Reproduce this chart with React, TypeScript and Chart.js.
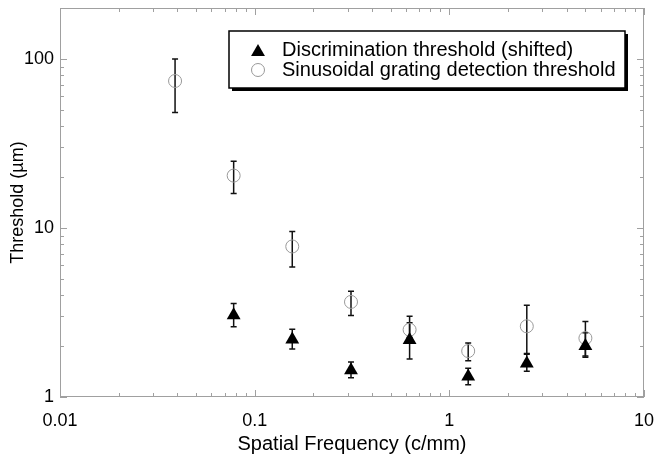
import React, { useEffect, useRef } from 'react';
import { Chart, registerables } from 'chart.js';

Chart.register(...registerables);

const FONT = '"Liberation Sans", Arial, Helvetica, sans-serif';

// Sinusoidal grating detection threshold (open circles)
const detFreq = [0.039, 0.078, 0.156, 0.3125, 0.625, 1.25, 2.5, 5];
const detThr = [74, 20.4, 7.77, 3.65, 2.5, 1.87, 2.62, 2.23];
const detLow = [48.2, 16.0, 5.87, 3.03, 2.25, 1.64, 1.81, 1.75];
const detHigh = [100, 24.8, 9.53, 4.22, 3.0, 2.09, 3.49, 2.8];

// Discrimination threshold (shifted) (filled triangles)
const discFreq = [0.078, 0.156, 0.3125, 0.625, 1.25, 2.5, 5];
const discThr = [3.05, 2.19, 1.44, 2.17, 1.32, 1.58, 2.0];
const discLow = [2.6, 1.92, 1.3, 1.68, 1.18, 1.42, 1.72];
const discHigh = [3.57, 2.52, 1.61, 2.75, 1.48, 1.79, 2.4];

const xTickValues = [0.01, 0.1, 1, 10];
const yTickValues = [1, 10, 100];
const X_MIN = 0.01;
const X_MAX = 10;
const Y_MIN = 1;
const Y_MAX = 200;

const discLabel = 'Discrimination threshold (shifted)';
const detLabel = 'Sinusoidal grating detection threshold';

function logMinors(min: number, max: number): number[] {
  const out: number[] = [];
  for (let k = Math.floor(Math.log10(min)); k <= Math.ceil(Math.log10(max)); k++) {
    for (let m = 1; m <= 9; m++) {
      const v = m * Math.pow(10, k);
      if (v >= min * 0.999 && v <= max * 1.001) out.push(v);
    }
  }
  return out;
}

function drawTriangle(ctx: CanvasRenderingContext2D, x: number, y: number, r: number) {
  ctx.beginPath();
  ctx.moveTo(x, y - r);
  ctx.lineTo(x + 0.866 * r, y + 0.5 * r);
  ctx.lineTo(x - 0.866 * r, y + 0.5 * r);
  ctx.closePath();
  ctx.fill();
}

const customPlugin = {
  id: 'customDecor',
  beforeDatasetsDraw(chart: any) {
    const ctx = chart.ctx as CanvasRenderingContext2D;
    const xs = chart.scales.x;
    const ys = chart.scales.y;
    ctx.save();
    ctx.strokeStyle = '#111';
    ctx.lineWidth = 1.5;
    chart.data.datasets.forEach((ds: any) => {
      ds.data.forEach((pt: any, i: number) => {
        const px = xs.getPixelForValue(pt.x);
        const p1 = ys.getPixelForValue(ds.errLow[i]);
        const p2 = ys.getPixelForValue(ds.errHigh[i]);
        ctx.beginPath();
        ctx.moveTo(px, p1);
        ctx.lineTo(px, p2);
        ctx.moveTo(px - 3, p1);
        ctx.lineTo(px + 3, p1);
        ctx.moveTo(px - 3, p2);
        ctx.lineTo(px + 3, p2);
        ctx.stroke();
      });
    });
    ctx.restore();
  },
  afterDraw(chart: any) {
    const ctx = chart.ctx as CanvasRenderingContext2D;
    const { left, right, top, bottom } = chart.chartArea;
    const xs = chart.scales.x;
    const ys = chart.scales.y;
    ctx.save();
    ctx.strokeStyle = '#a0a0a0';
    ctx.lineWidth = 1;
    ctx.strokeRect(left + 0.5, top + 0.5, right - left - 1, bottom - top - 1);
    ctx.beginPath();
    logMinors(X_MIN, X_MAX).forEach((v) => {
      const px = Math.round(xs.getPixelForValue(v)) + 0.5;
      const major = xTickValues.some((t) => Math.abs(t - v) / t < 1e-6);
      const len = major ? 7 : 4;
      ctx.moveTo(px, bottom);
      ctx.lineTo(px, bottom - len);
      ctx.moveTo(px, top);
      ctx.lineTo(px, top + len);
    });
    logMinors(Y_MIN, Y_MAX).forEach((v) => {
      const py = Math.round(ys.getPixelForValue(v)) + 0.5;
      const major = yTickValues.some((t) => Math.abs(t - v) / t < 1e-6);
      const len = major ? 7 : 4;
      ctx.moveTo(left, py);
      ctx.lineTo(left + len, py);
      ctx.moveTo(right, py);
      ctx.lineTo(right - len, py);
    });
    ctx.stroke();

    // legend
    const bx = 229, by = 31, bw = 396, bh = 57;
    ctx.fillStyle = '#000';
    ctx.fillRect(bx + 3, by + 3, bw, bh);
    ctx.fillStyle = '#fff';
    ctx.fillRect(bx, by, bw, bh);
    ctx.strokeStyle = '#000';
    ctx.lineWidth = 1.5;
    ctx.strokeRect(bx, by, bw, bh);

    ctx.fillStyle = '#000';
    drawTriangle(ctx, 258, 52, 8);
    ctx.strokeStyle = '#999';
    ctx.lineWidth = 1;
    ctx.beginPath();
    ctx.arc(258, 70, 6.5, 0, Math.PI * 2);
    ctx.stroke();

    ctx.fillStyle = '#000';
    ctx.font = `20px ${FONT}`;
    ctx.textBaseline = 'middle';
    ctx.textAlign = 'left';
    ctx.fillText(chart.data.datasets[0].label, 282, 50);
    ctx.fillText(chart.data.datasets[1].label, 282, 70);
    ctx.restore();
  },
};

export default function App() {
  const ref = useRef<HTMLCanvasElement | null>(null);
  useEffect(() => {
    document.body.style.margin = '0';
    const canvas = ref.current;
    if (!canvas) return;
    const chart = new Chart(canvas, {
      type: 'scatter',
      data: {
        datasets: [
          {
            label: discLabel,
            data: discFreq.map((x, i) => ({ x, y: discThr[i] })),
            errLow: discLow,
            errHigh: discHigh,
            pointStyle: 'triangle',
            pointRadius: 8,
            pointHoverRadius: 8,
            backgroundColor: '#000',
            borderColor: '#000',
            borderWidth: 0,
            showLine: false,
          } as any,
          {
            label: detLabel,
            data: detFreq.map((x, i) => ({ x, y: detThr[i] })),
            errLow: detLow,
            errHigh: detHigh,
            pointStyle: 'circle',
            pointRadius: 6.5,
            pointHoverRadius: 6.5,
            backgroundColor: 'rgba(0,0,0,0)',
            borderColor: '#999',
            borderWidth: 1,
            showLine: false,
          } as any,
        ],
      },
      options: {
        responsive: false,
        animation: false,
        devicePixelRatio: 1,
        layout: { padding: { top: 7, right: 14, left: 0, bottom: 0 } },
        plugins: { legend: { display: false }, tooltip: { enabled: false } },
        events: [],
        scales: {
          x: {
            type: 'logarithmic',
            min: X_MIN,
            max: X_MAX,
            grid: { display: false, drawTicks: false },
            border: { display: false },
            afterBuildTicks: (s: any) => {
              s.ticks = xTickValues.map((v) => ({ value: v }));
            },
            afterFit: (s: any) => {
              s.height = 61;
              s.paddingLeft = 0;
              s.paddingRight = 0;
            },
            ticks: {
              autoSkip: false,
              maxRotation: 0,
              minRotation: 0,
              padding: 13,
              color: '#000',
              font: { family: FONT, size: 18 },
              callback: (v: any) => String(v),
            },
            title: {
              display: true,
              text: 'Spatial Frequency (c/mm)',
              color: '#000',
              font: { family: FONT, size: 20 },
              padding: { top: 0, bottom: 2 },
            },
          },
          y: {
            type: 'logarithmic',
            min: Y_MIN,
            max: Y_MAX,
            grid: { display: false, drawTicks: false },
            border: { display: false },
            afterBuildTicks: (s: any) => {
              s.ticks = yTickValues.map((v) => ({ value: v }));
            },
            afterFit: (s: any) => {
              s.width = 60;
              s.paddingTop = 0;
              s.paddingBottom = 0;
            },
            ticks: {
              autoSkip: false,
              padding: 6,
              color: '#000',
              font: { family: FONT, size: 18 },
              callback: (v: any) => String(v),
            },
            title: {
              display: true,
              text: 'Threshold (µm)',
              color: '#000',
              font: { family: FONT, size: 18 },
              padding: { top: 7, bottom: 0 },
            },
          },
        },
      } as any,
      plugins: [customPlugin],
    });
    return () => chart.destroy();
  }, []);
  return <canvas ref={ref} width={658} height={458} style={{ display: 'block' }} />;
}
